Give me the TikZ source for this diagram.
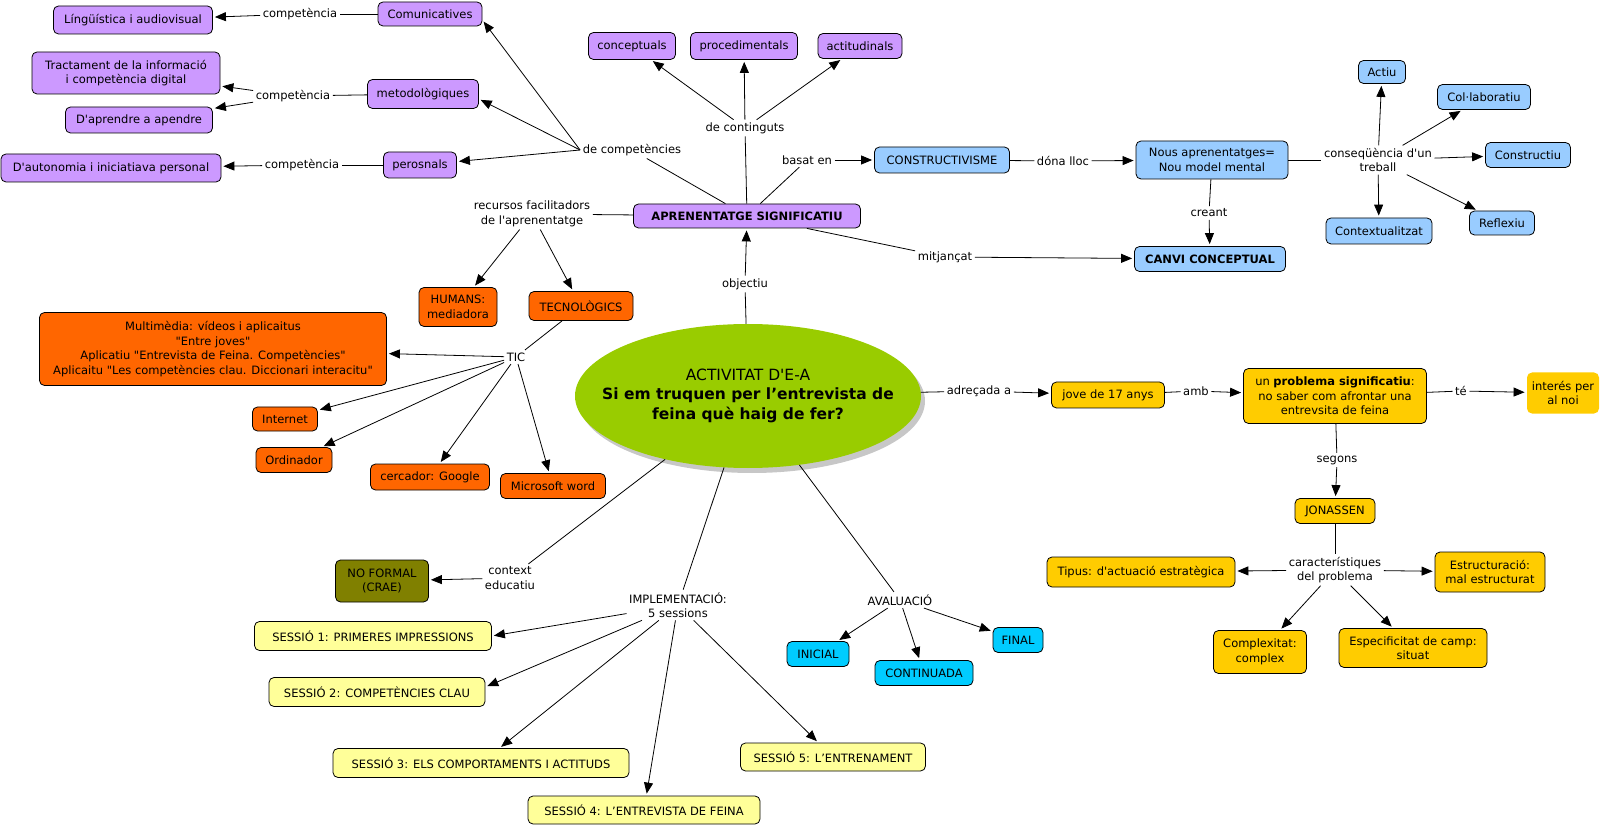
\documentclass[tikz,border=0pt]{standalone}
\usepackage{fontspec}
\setmainfont{DejaVu Sans}[Ligatures=TeXOff]
\usetikzlibrary{positioning}
\usetikzlibrary{arrows.meta}
\usetikzlibrary{shadows}
\usetikzlibrary{shapes.geometric}
\definecolor{lila}{RGB}{204,153,255}
\definecolor{celeste}{RGB}{153,204,255}
\definecolor{taronja}{RGB}{255,102,0}
\definecolor{groc}{RGB}{255,204,0}
\definecolor{grocclar}{RGB}{255,255,153}
\definecolor{oliva}{RGB}{128,128,0}
\definecolor{cian}{RGB}{0,204,255}
\definecolor{verd}{RGB}{153,204,0}
\tikzset{
	concept/.style={draw=black,rounded corners=5pt,align=center,inner sep=3pt,line width=0.8pt},
	sz/.style 2 args={minimum width=#1pt,minimum height=#2pt},
	lbl/.style={align=center,inner sep=2.5pt},
	link/.style={line width=0.8pt},
	arr/.style={link,-{Triangle[length=11pt,width=9pt]},shorten >=2pt},
	}

\begin{document}
\begin{tikzpicture}[x=1pt,y=-1pt,font=\fontsize{11.5}{14.5}\selectfont]
	\useasboundingbox (0,0) rectangle (1610,826);

	% central idea...................
	\node [ellipse,fill=verd,inner sep=0pt,minimum width=346pt,minimum height=144pt,
		drop shadow={shadow xshift=4pt,shadow yshift=-5pt,fill=black!22,opacity=1},
		font=\fontsize{15.5}{19.5}\selectfont] (activitat) at (748,396)
		{\makebox[0pt]{\begin{tabular}{@{}c@{}}ACTIVITAT D'E-A\\\textbf{Si em truquen per l’entrevista de}\\\textbf{feina què haig de fer?}\end{tabular}}};

	% purple concepts.....................
	\node [concept,fill=lila,sz={227}{24}] (aprenentatge) at (747,216) {\textbf{APRENENTATGE SIGNIFICATIU}};
	\node [concept,fill=lila,sz={159}{28}] (lingu) at (133,20) {Língüística i audiovisual};
	\node [concept,fill=lila,sz={104}{24}] (comunic) at (430,14) {Comunicatives};
	\node [concept,fill=lila,sz={188}{42}] (tract) at (126,73) {Tractament de la informació\\i competència digital};
	\node [concept,fill=lila,sz={111}{29}] (metodo) at (423,94) {metodològiques};
	\node [concept,fill=lila,sz={147}{26}] (daprendre) at (139,120) {D'aprendre a apendre};
	\node [concept,fill=lila,sz={220}{28}] (dautonomia) at (111,168) {D'autonomia i iniciatiava personal};
	\node [concept,fill=lila,sz={73}{26}] (perosnals) at (420,165) {perosnals};
	\node [concept,fill=lila,sz={87}{27}] (conceptuals) at (632,46) {conceptuals};
	\node [concept,fill=lila,sz={107}{27}] (procedimentals) at (744,46) {procedimentals};
	\node [concept,fill=lila,sz={84}{25}] (actitudinals) at (860,46) {actitudinals};

	% blue concepts.....................
	\node [concept,fill=celeste,sz={135}{26}] (constructivisme) at (942,160) {CONSTRUCTIVISME};
	\node [concept,fill=celeste,sz={152}{38}] (nous) at (1212,160) {Nous aprenentatges=\\Nou model mental};
	\node [concept,fill=celeste,sz={151}{25}] (canvi) at (1210,259) {\textbf{CANVI CONCEPTUAL}};
	\node [concept,fill=celeste,sz={47}{23}] (actiu) at (1382,72) {Actiu};
	\node [concept,fill=celeste,sz={93}{25}] (collab) at (1484,97) {Col·laboratiu};
	\node [concept,fill=celeste,sz={85}{25}] (constructiu) at (1528,155) {Constructiu};
	\node [concept,fill=celeste,sz={65}{24}] (reflexiu) at (1502,223) {Reflexiu};
	\node [concept,fill=celeste,sz={106}{26}] (contextualitzat) at (1379,231) {Contextualitzat};

	% orange concepts.....................
	\node [concept,fill=taronja,sz={78}{39}] (humans) at (458,307) {HUMANS:\\mediadora};
	\node [concept,fill=taronja,sz={104}{29}] (tecnologics) at (581,306) {TECNOLÒGICS};
	\node [concept,fill=taronja,sz={347}{73}] (multimedia) at (213,349)
		{Multimèdia: vídeos i aplicaitus\\"Entre joves"\\Aplicatiu "Entrevista de Feina. Competències"\\Aplicaitu "Les competències clau. Diccionari interacitu"};
	\node [concept,fill=taronja,sz={65}{24}] (internet) at (285,419) {Internet};
	\node [concept,fill=taronja,sz={76}{25}] (ordinador) at (294,460) {Ordinador};
	\node [concept,fill=taronja,sz={119}{26}] (cercador) at (430,477) {cercador: Google};
	\node [concept,fill=taronja,sz={105}{25}] (microsoft) at (553,486) {Microsoft word};

	% yellow concepts.....................
	\node [concept,fill=groc,sz={113}{26}] (jove) at (1108,395) {jove de 17 anys};
	\node [concept,fill=groc,sz={183}{55}] (problema) at (1335,396) {un \textbf{problema significatiu}:\\no saber com afrontar una\\entrevsita de feina};
	\node [concept,fill=groc,draw=none,sz={72}{41}] (interes) at (1563,393) {interés per\\al noi};
	\node [concept,fill=groc,sz={80}{25}] (jonassen) at (1335,511) {JONASSEN};
	\node [concept,fill=groc,sz={188}{30}] (tipus) at (1141,572) {Tipus: d'actuació estratègica};
	\node [concept,fill=groc,sz={110}{40}] (estructuracio) at (1490,572) {Estructuració:\\mal estructurat};
	\node [concept,fill=groc,sz={93}{43}] (complexitat) at (1260,652) {Complexitat:\\complex};
	\node [concept,fill=groc,sz={148}{39}] (especificitat) at (1413,648) {Especificitat de camp:\\situat};

	% context, sessions and evaluation.....................
	\node [concept,fill=oliva,sz={93}{42}] (noformal) at (382,581) {NO FORMAL\\(CRAE)};
	\node [concept,fill=grocclar,sz={237}{29}] (s1) at (373,636) {SESSIÓ 1: PRIMERES IMPRESSIONS};
	\node [concept,fill=grocclar,sz={216}{29}] (s2) at (377,692) {SESSIÓ 2: COMPETÈNCIES CLAU};
	\node [concept,fill=grocclar,sz={296}{29}] (s3) at (481,763) {SESSIÓ 3: ELS COMPORTAMENTS I ACTITUDS};
	\node [concept,fill=grocclar,sz={232}{28}] (s4) at (644,810) {SESSIÓ 4: L’ENTREVISTA DE FEINA};
	\node [concept,fill=grocclar,sz={185}{28}] (s5) at (833,757) {SESSIÓ 5: L’ENTRENAMENT};
	\node [concept,fill=cian,sz={62}{25}] (inicial) at (818,654) {INICIAL};
	\node [concept,fill=cian,sz={98}{25}] (continuada) at (924,673) {CONTINUADA};
	\node [concept,fill=cian,sz={50}{25}] (final) at (1018,640) {FINAL};

	% linking phrases.....................
	\node [lbl] (comp1) at (300,14) {competència};
	\node [lbl] (comp2) at (293,96) {competència};
	\node [lbl] (comp3) at (302,165) {competència};
	\node [lbl] (decomp) at (632,150) {de competències};
	\node [lbl] (decont) at (745,128) {de continguts};
	\node [lbl] (basat) at (807,160) {basat en};
	\node [lbl] (dona) at (1063,161) {dóna lloc};
	\node [lbl] (creant) at (1209,213) {creant};
	\node [lbl] (mitjancat) at (945,257) {mitjançat};
	\node [lbl] (conseq) at (1378,160) {conseqüència d'un\\treball};
	\node [lbl] (recursos) at (532,214) {recursos facilitadors\\de l'aprenentatge};
	\node [lbl] (tic) at (516,357) {TIC};
	\node [lbl] (objectiu) at (745,284) {objectiu};
	\node [lbl] (adrecada) at (979,391) {adreçada a};
	\node [lbl] (amb) at (1196,391) {amb};
	\node [lbl] (te) at (1461,391) {té};
	\node [lbl] (segons) at (1337,460) {segons};
	\node [lbl] (caract) at (1335,570) {característiques\\del problema};
	\node [lbl] (context) at (510,578) {context\\educatiu};
	\node [lbl] (impl) at (678,605) {IMPLEMENTACIÓ:\\5 sessions};
	\node [lbl] (aval) at (900,600) {AVALUACIÓ};

	% competences.....................
	\draw [link] (comunic) -- (comp1);
	\draw [arr] (comp1) -- (lingu);
	\draw [link] (metodo) -- (comp2);
	\draw [arr] (comp2) -- (tract);
	\draw [arr] (comp2) -- (daprendre);
	\draw [link] (perosnals) -- (comp3);
	\draw [arr] (comp3) -- (dautonomia);
	\draw [link] (aprenentatge) -- (decomp);
	\draw [arr] (decomp.west) -- ([yshift=-6pt]comunic.east);
	\draw [arr] (decomp.west) -- ([yshift=-5pt]metodo.east);
	\draw [arr] (decomp.west) -- (perosnals);

	% contents.....................
	\draw [link] (aprenentatge) -- (decont);
	\draw [arr] (decont) -- (conceptuals);
	\draw [arr] (decont) -- (procedimentals);
	\draw [arr] (decont) -- (actitudinals);

	% constructivism.....................
	\draw [link] (aprenentatge) -- (basat);
	\draw [arr] (basat) -- (constructivisme);
	\draw [link] (constructivisme) -- (dona);
	\draw [arr] (dona) -- (nous);
	\draw [link] (nous) -- (creant);
	\draw [arr] (creant) -- (canvi);
	\draw [link] (aprenentatge) -- (mitjancat);
	\draw [arr] (mitjancat) -- (canvi);
	\draw [link] (nous) -- (conseq);
	\foreach \t in {actiu,collab,constructiu,reflexiu,contextualitzat}
		\draw [arr] (conseq) -- (\t);

	% resources.....................
	\draw [link] (recursos) -- (aprenentatge);
	\draw [arr] (recursos) -- (humans);
	\draw [arr] (recursos) -- (tecnologics);
	\draw [link] (tecnologics) -- (tic);
	\foreach \t in {multimedia,internet,ordinador,cercador,microsoft}
		\draw [arr] (tic) -- (\t);

	% from the activity.....................
	\draw [link] (activitat) -- (objectiu);
	\draw [arr] (objectiu) -- (aprenentatge);
	\draw [link] (activitat) -- (adrecada);
	\draw [arr] (adrecada) -- (jove);
	\draw [link] (jove) -- (amb);
	\draw [arr] (amb) -- (problema);
	\draw [link] (problema) -- (te);
	\draw [arr] (te) -- (interes);
	\draw [link] (problema) -- (segons);
	\draw [arr] (segons) -- (jonassen);
	\draw [link] (jonassen) -- (caract);
	\foreach \t in {tipus,estructuracio,complexitat,especificitat}
		\draw [arr] (caract) -- (\t);
	\draw [link] (activitat) -- (context);
	\draw [arr] (context) -- (noformal);
	\draw [link] (activitat) -- (impl);
	\draw [arr] (impl) -- (s1.east);
	\draw [arr] (impl) -- ([yshift=5pt]s2.east);
	\foreach \t in {s3,s4,s5}
		\draw [arr] (impl) -- (\t);
	\draw [link] (activitat) -- (aval);
	\foreach \t in {inicial,continuada,final}
		\draw [arr] (aval) -- (\t);
\end{tikzpicture}
\end{document}
